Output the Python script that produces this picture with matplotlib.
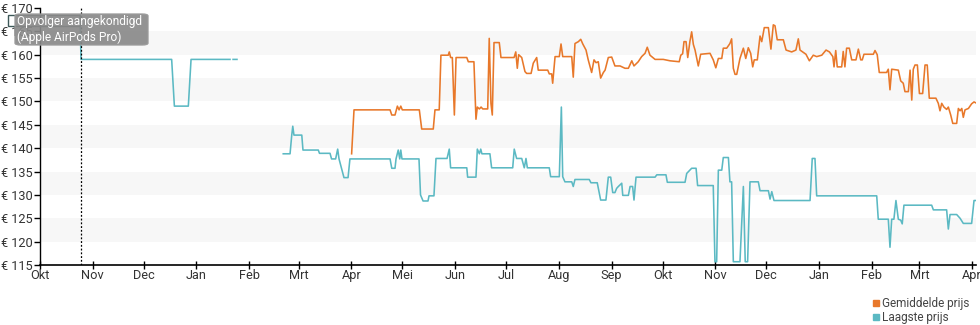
import matplotlib
matplotlib.use("Agg")
import matplotlib.pyplot as plt
from matplotlib.lines import Line2D
from matplotlib.patches import FancyBboxPatch, Rectangle
import numpy as np
import pandas as pd

plt.rcParams["font.family"] = ["Roboto", "DejaVu Sans"]

START = pd.Timestamp("2019-10-01")
ANNOUNCED = pd.Timestamp("2019-10-25")

# days since START, price in euro (NaN = no data)
low_days = [
    23.5, 24.1, 77.4, 79.0, 87.2, 88.8, 111.7, 112.5, 113.5, 115.8, 116.5,
    143.0, 147.0, 148.0, 148.6, 149.3, 153.9, 154.6, 163.6, 164.3, 170.5,
    171.4, 173.8, 175.0, 175.8, 178.7, 181.1, 182.2, 205.8, 206.8, 208.7,
    209.3, 210.6, 211.5, 212.1, 212.8, 222.8, 223.7, 225.2, 228.1, 228.7,
    231.6, 232.8, 239.3, 240.6, 241.4, 250.9, 251.4, 256.3, 257.1, 258.3,
    259.1, 259.8, 264.5, 265.5, 277.9, 278.8, 280.2, 283.2, 284.7, 285.7,
    286.5, 299.4, 300.2, 305.3, 306.5, 307.3, 308.6, 312.6, 313.5, 314.5,
    322.9, 323.9, 327.6, 329.6, 332.7, 334.1, 335.5, 336.7, 338.0, 339.0,
    340.0, 342.0, 342.6, 345.9, 346.9, 348.4, 349.2, 350.4, 361.6, 362.6,
    368.0, 368.8, 379.2, 380.2, 383.1, 385.7, 386.6, 395.8, 396.8, 397.8,
    398.8, 400.8, 401.7, 404.7, 405.6, 406.6, 407.6, 411.5, 413.5, 414.6,
    416.0, 417.4, 422.3, 423.3, 428.2, 429.2, 430.2, 431.5, 452.7, 454.0,
    455.6, 456.6, 491.9, 492.8, 498.7, 499.7, 500.7, 502.0, 503.2, 504.6,
    506.0, 506.9, 507.9, 524.2, 525.2, 533.0, 534.0, 535.0, 538.9, 540.9,
    542.8, 547.7, 549.1, 550.7,
]
low_price = [
    168.5, 159, 159, 149, 149, 159, 159, np.nan, 159, 159, np.nan,
    138.8, 138.8, 142.8, 144.7, 142.8, 142.8, 139.6, 139.6, 138.9, 138.9,
    137.7, 137.7, 139.8, 137.7, 133.7, 133.7, 137.7, 137.7, 135.7, 135.7,
    137.7, 139.6, 137.7, 139.6, 137.7, 137.7, 130.0, 128.7, 128.7, 129.8,
    129.8, 137.8, 137.8, 139.8, 135.8, 135.8, 133.8, 133.8, 139.8, 138.8,
    139.8, 138.8, 138.8, 135.8, 135.8, 139.8, 137.8, 137.8, 135.8, 137.8,
    135.8, 135.8, 133.9, 133.9, 148.8, 133.9, 132.8, 132.8, 131.8, 133.3,
    133.3, 132.6, 132.6, 128.9, 128.9, 133.8, 133.8, 130.5, 130.5, 131.4,
    131.8, 132.5, 129.9, 129.9, 131.8, 131.8, 128.9, 133.8, 133.8, 134.3,
    134.3, 132.7, 132.7, 134.6, 135.7, 135.7, 132.0, 132.0, 115.7, 115.7,
    135.3, 135.3, 138.0, 138.0, 132.8, 132.8, 115.7, 115.7, 131.8, 115.7,
    115.7, 132.8, 132.8, 130.9, 130.9, 129.1, 130.7, 128.8, 128.8, 137.8,
    137.8, 129.8, 129.8, 124.8, 124.8, 118.8, 124.8, 124.8, 128.8, 124.8,
    124.6, 123.8, 127.8, 127.8, 126.8, 126.8, 122.7, 125.8, 125.8, 125.0,
    123.9, 123.9, 128.8, 128.8,
]

avg_days = [
    183.2, 184.6, 205.8, 206.8, 208.7, 210.1, 211.1, 212.1, 213.0, 223.0,
    224.4, 231.2, 232.2, 234.7, 235.7, 240.0, 240.6, 241.4, 242.4, 243.6,
    244.6, 250.9, 251.8, 255.1, 256.3, 257.1, 258.3, 259.3, 260.3, 263.2,
    264.1, 265.1, 265.9, 266.9, 270.0, 271.0, 278.7, 279.7, 280.6, 281.4,
    283.2, 285.1, 286.1, 288.7, 290.0, 292.0, 292.9, 298.5, 299.4, 300.8,
    301.4, 302.8, 305.3, 306.3, 307.3, 312.6, 313.5, 314.5, 316.5, 317.9,
    319.1, 321.0, 322.3, 324.3, 325.7, 326.9, 328.2, 329.6, 331.2, 332.2,
    334.1, 336.1, 338.0, 341.0, 343.9, 345.9, 347.9, 349.2, 351.7, 353.7,
    355.7, 357.0, 358.6, 361.6, 366.4, 370.4, 375.8, 376.7, 377.8, 378.6,
    379.8, 380.8, 382.1, 383.1, 384.1, 385.1, 387.0, 388.4, 393.9, 395.8,
    397.3, 398.8, 400.8, 401.7, 403.7, 405.6, 406.6, 407.6, 408.6, 409.6,
    411.5, 413.5, 414.9, 416.4, 417.8, 419.0, 419.9, 421.7, 423.3, 424.3,
    425.8, 428.2, 429.7, 431.1, 432.1, 433.4, 437.0, 438.6, 441.9, 444.4,
    445.8, 446.8, 450.3, 452.3, 454.6, 456.6, 459.6, 462.1, 464.1, 466.1,
    466.8, 467.8, 468.7, 471.3, 472.2, 473.2, 474.2, 475.8, 477.2, 479.7,
    481.1, 482.5, 483.4, 484.4, 489.9, 490.9, 492.2, 493.4, 497.7, 498.7,
    499.7, 500.7, 504.6, 506.0, 507.5, 508.5, 510.5, 511.5, 512.5, 513.4,
    514.4, 515.8, 517.0, 518.9, 520.3, 521.6, 522.8, 526.7, 528.1, 529.1,
    530.1, 531.4, 533.0, 534.0, 535.4, 536.6, 538.9, 539.9, 540.9, 541.9,
    542.8, 543.8, 545.8, 547.7, 549.1, 550.7,
]
avg_price = [
    138.8, 148.2, 148.2, 147.1, 147.1, 149.0, 148.2, 149.0, 148.2, 148.2,
    144.1, 144.1, 148.2, 148.2, 159.9, 159.9, 160.6, 159.4, 159.4, 147.1,
    159.4, 159.4, 158.5, 158.5, 146.2, 148.8, 148.4, 148.8, 148.4, 148.4,
    163.5, 149.6, 147.1, 162.6, 162.6, 159.4, 159.4, 160.6, 157.1, 160.0,
    159.4, 156.4, 156.0, 156.0, 158.2, 159.4, 156.7, 156.7, 155.9, 155.9,
    153.9, 159.6, 159.6, 162.3, 159.6, 159.6, 155.2, 162.4, 162.8, 163.3,
    162.3, 161.0, 158.9, 156.2, 158.9, 158.3, 158.5, 155.0, 156.2, 156.7,
    159.4, 159.5, 157.6, 157.6, 157.1, 157.1, 158.7, 157.6, 158.5, 159.6,
    160.3, 161.6, 159.9, 159.0, 159.0, 158.7, 158.5, 159.9, 160.2, 162.8,
    162.8, 159.4, 162.9, 164.9, 162.2, 161.0, 157.6, 160.1, 160.3, 158.9,
    157.2, 159.2, 159.2, 161.4, 161.4, 162.4, 163.4, 157.1, 155.8, 155.8,
    159.2, 161.4, 159.2, 161.5, 160.3, 157.4, 158.9, 158.9, 164.0, 162.8,
    165.8, 165.8, 161.2, 166.4, 166.2, 163.2, 163.2, 161.0, 160.6, 161.0,
    163.4, 161.0, 160.1, 158.7, 159.9, 159.6, 159.9, 161.0, 160.6, 159.6,
    157.4, 160.9, 157.4, 157.4, 160.7, 157.4, 161.4, 161.4, 158.9, 158.9,
    161.2, 158.9, 158.9, 160.1, 160.1, 160.9, 160.0, 156.2, 156.2, 156.9,
    152.5, 156.9, 156.7, 154.4, 153.9, 152.1, 152.1, 156.7, 150.3, 156.9,
    157.8, 157.8, 151.7, 151.7, 157.8, 157.8, 150.7, 150.7, 149.6, 148.0,
    149.6, 148.8, 148.3, 148.8, 147.1, 145.3, 145.3, 148.5, 148.0, 148.5,
    146.6, 148.2, 148.5, 149.5, 149.9, 149.6,
]

months = ["Okt", "Nov", "Dec", "Jan", "Feb", "Mrt", "Apr", "Mei", "Jun",
          "Jul", "Aug", "Sep", "Okt", "Nov", "Dec", "Jan", "Feb", "Mrt", "Apr"]
y_ticks = list(range(115, 171, 5))

ORANGE = "#e8782a"
TEAL = "#5bb9c3"


def to_dates(days):
    return START + pd.to_timedelta(days, unit="D")


fig = plt.figure(figsize=(9.8, 3.25), dpi=100)
ax = fig.add_axes([40 / 980, 1 - 265 / 325, 936.4 / 980, 257 / 325])

# alternating horizontal bands
for lo in range(120, 170, 10):
    ax.axhspan(lo, lo + 5, color="#f7f7f7", lw=0, zorder=0)

ax.plot(to_dates(low_days), low_price, color=TEAL, lw=1.15, zorder=3)
ax.plot(to_dates(avg_days), avg_price, color=ORANGE, lw=1.15, zorder=3)

ax.axvline(ANNOUNCED, color="black", lw=0.9, ls=(0, (1.5, 1.5)), zorder=4)

ax.set_ylim(115, 170)
ax.set_xlim(START, START + pd.Timedelta(days=550.5))

tick_dates = pd.date_range(START, periods=len(months), freq="MS")
ax.set_xticks(tick_dates)
ax.set_xticklabels(months)
ax.set_yticks(y_ticks)
ax.set_yticklabels([f"€ {v}" for v in y_ticks])

ax.tick_params(axis="y", direction="out", length=4, width=1, colors="black",
               labelcolor="#333333", labelsize=9.2, pad=1)
ax.tick_params(axis="x", direction="inout", length=6, width=1, colors="black",
               labelcolor="#333333", labelsize=9.2, pad=0)

for side in ("top", "right"):
    ax.spines[side].set_visible(False)
ax.spines["left"].set_linewidth(1)
ax.spines["bottom"].set_linewidth(1.2)

# announcement label
fig.patches.append(Rectangle((8 / 980, 1 - 26 / 325), 72 / 980, 11 / 325,
                             transform=fig.transFigure, fill=False,
                             edgecolor="#3d5858", lw=1, zorder=5))
fig.patches.append(FancyBboxPatch((15 / 980, 1 - 45 / 325), 133 / 980, 31 / 325,
                                  boxstyle="round,pad=0,rounding_size=0.006",
                                  transform=fig.transFigure, facecolor="#8a8a8a",
                                  edgecolor="#9a9a9a", alpha=0.92, zorder=6))
fig.text(17 / 980, 1 - 22 / 325, "Opvolger aangekondigd", color="white",
         fontsize=8.6, va="center", ha="left", zorder=7)
fig.text(17 / 980, 1 - 37 / 325, "(Apple AirPods Pro)", color="white",
         fontsize=8.6, va="center", ha="left", zorder=7)

handles = [
    Line2D([], [], marker="s", ls="", color=ORANGE, markersize=5, label="Gemiddelde prijs"),
    Line2D([], [], marker="s", ls="", color=TEAL, markersize=5, label="Laagste prijs"),
]
fig.legend(handles=handles, loc="upper right", bbox_to_anchor=(0.995, 0.105),
           frameon=False, fontsize=8.5, handlelength=0.6, handletextpad=0.2,
           labelspacing=0.1, borderpad=0, labelcolor="#444444")

fig.savefig("out.png", dpi=100)
